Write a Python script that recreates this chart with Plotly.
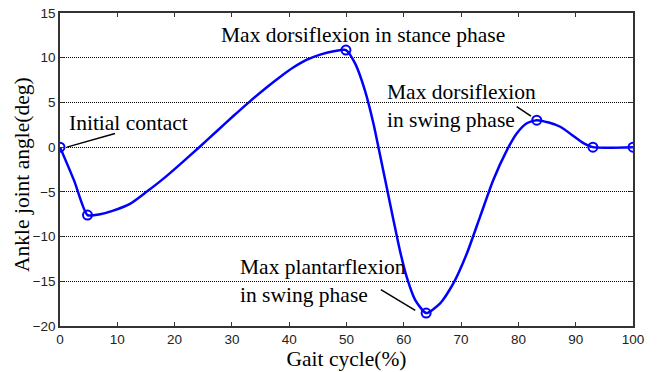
import plotly.graph_objects as go

# ---- data ----
gait_pct = [0, 2.5, 4.8, 7.0, 9.3, 12.2, 15.1, 18.0, 20.9, 24.4, 27.3, 30.2, 33.2, 36.1,
            38.4, 40.7, 43.0, 45.4, 48.0, 49.9, 51.5, 53.2, 54.7, 55.8, 57.0, 58.2, 59.3,
            60.5, 62.0, 63.9, 66.3, 68.6, 71.0, 73.3, 75.6, 78.0, 79.7, 81.4, 83.2, 85.3,
            87.3, 90.2, 91.5, 93.0, 100]
ankle_deg = [0, -3.8, -7.6, -7.5, -7.1, -6.35, -5.0, -3.55, -1.95, 0.05, 1.75, 3.45, 5.15, 6.7,
             7.85, 8.9, 9.75, 10.35, 10.75, 10.86, 9.37, 6.38, 2.65, -0.71, -4.44, -8.17, -11.5,
             -14.5, -17.1, -18.55, -17.5, -15.3, -11.9, -7.8, -3.7, -0.34, 1.53, 2.65, 3.02, 2.75,
             2.28, 0.97, 0.4, 0, 0]

key_pct = [0, 4.8, 49.9, 63.9, 83.2, 93, 100]
key_deg = [0, -7.6, 10.86, -18.55, 3.02, 0, 0]

x_ticks = [0, 10, 20, 30, 40, 50, 60, 70, 80, 90, 100]
y_ticks = [-20, -15, -10, -5, 0, 5, 10, 15]

BLUE = "#0000FF"
SERIF = "Liberation Serif, Times New Roman, serif"
SANS = "Liberation Sans, Arial, sans-serif"
TXT = 21.5

fig = go.Figure()
fig.add_trace(go.Scatter(x=gait_pct, y=ankle_deg, mode="lines",
                         line=dict(color=BLUE, width=2.5, shape="spline", smoothing=0.6),
                         showlegend=False, hoverinfo="skip"))
fig.add_trace(go.Scatter(x=key_pct, y=key_deg, mode="markers",
                         marker=dict(symbol="circle-open", size=9, color=BLUE,
                                     line=dict(color=BLUE, width=2)),
                         showlegend=False))

# leader lines (annotation pointers)
leaders = [
    (key_pct[0] + 1.2, key_deg[0], 9.6, 1.53),
    (79.7, 4.54, key_pct[4] - 1.0, key_deg[4] + 0.45),
    (56.0, -15.94, key_pct[3] - 1.9, key_deg[3] + 0.3),
]
for x0, y0, x1, y1 in leaders:
    fig.add_shape(type="line", x0=x0, y0=y0, x1=x1, y1=y1, xref="x", yref="y",
                  line=dict(color="black", width=1.5))

notes = [
    ("Initial contact", 1.2, 2.71, "left"),
    ("Max dorsiflexion in stance phase", 52.8, 12.54, "center"),
    ("Max dorsiflexion<br>in swing phase", 56.8, 4.62, "left"),
    ("Max plantarflexion<br>in swing phase", 31.1, -14.95, "left"),
]
for txt, x, y, anc in notes:
    fig.add_annotation(text=txt, x=x, y=y, xref="x", yref="y", showarrow=False,
                       xanchor=anc, yanchor="middle", align="left",
                       font=dict(family=SERIF, size=TXT, color="black"))

# y-axis title placed as rotated text
fig.add_annotation(text="Ankle joint angle(deg)", xref="paper", yref="paper",
                   x=-0.066, y=0.483, textangle=-90, showarrow=False,
                   xanchor="center", yanchor="middle",
                   font=dict(family=SERIF, size=TXT, color="black"))

axis_common = dict(showline=True, mirror="ticks", linecolor="#333333", linewidth=1.5,
                   ticks="inside", ticklen=4, tickwidth=1, tickcolor="#333333",
                   tickfont=dict(family=SANS, size=13.5, color="#222222"),
                   zeroline=False)

fig.update_xaxes(range=[0, 100], tickvals=x_ticks, showgrid=False,
                 title=dict(text="Gait cycle(%)", font=dict(family=SERIF, size=TXT, color="black"),
                            standoff=4),
                 **axis_common)
fig.update_yaxes(range=[-20, 15], tickvals=y_ticks, showgrid=True, gridcolor="black",
                 griddash="1px,1px", gridwidth=1,
                 **axis_common)

fig.update_layout(width=659, height=372, margin=dict(l=60, r=26, t=13, b=46, autoexpand=False),
                  paper_bgcolor="white", plot_bgcolor="white")

fig.write_html("out.html")
